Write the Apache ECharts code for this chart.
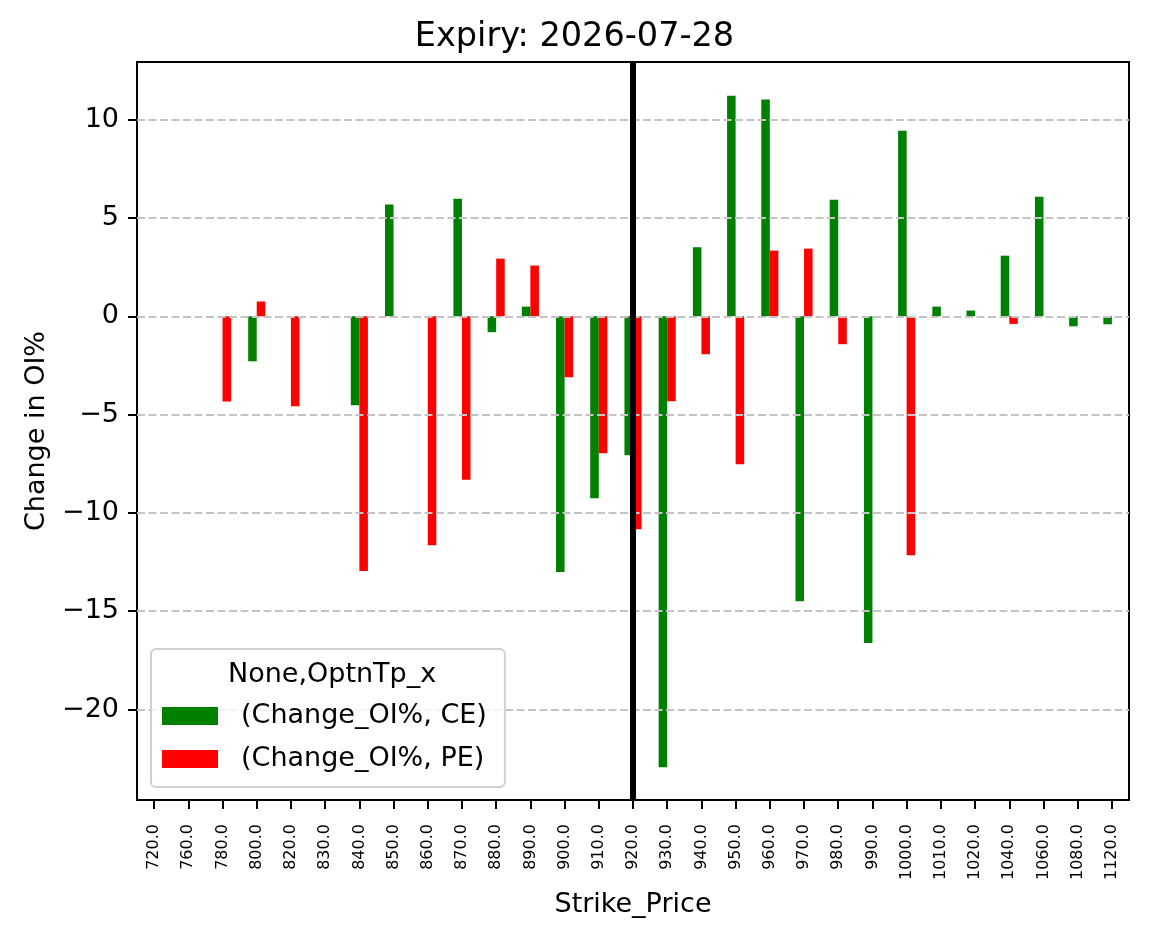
<!DOCTYPE html>
<html>
<head>
<meta charset="utf-8">
<script src="https://cdn.jsdelivr.net/npm/echarts@6/dist/echarts.min.js"></script>
<style>
  html, body { margin: 0; padding: 0; background: #fff; }
  #chart { width: 1149px; height: 939px; }
</style>
</head>
<body>
<div id="chart"></div>
<script>
// strike prices (x categories)
var strikes = ['720.0', '760.0', '780.0', '800.0', '820.0', '830.0', '840.0', '850.0', '860.0', '870.0',
    '880.0', '890.0', '900.0', '910.0', '920.0', '930.0', '940.0', '950.0', '960.0', '970.0',
    '980.0', '990.0', '1000.0', '1010.0', '1020.0', '1040.0', '1060.0', '1080.0', '1120.0'];

// change in OI% for calls / puts
var ceChange = [null, null, null, -2.29, null, null, -4.53, 5.68, null, 5.98,
    -0.81, 0.49, -13.0, -9.25, -7.07, -22.93, 3.51, 11.22, 11.02, -14.49,
    5.93, -16.62, 9.44, 0.49, 0.29, 3.08, 6.08, -0.51, -0.41];
var peChange = [null, null, -4.34, 0.75, -4.58, null, -12.96, null, -11.64, -8.31,
    2.93, 2.58, -3.10, -6.97, -10.83, -4.32, -1.93, -7.53, 3.34, 3.44,
    -1.42, null, -12.15, null, null, -0.39, null, null, null];

var yTicks = [-20, -15, -10, -5, 0, 5, 10];
var spotStrike = '920.0';

var font = 'DejaVu Sans';

// dashed horizontal grid lines, drawn over the bars like matplotlib does
var gridLines = yTicks.map(function (v) {
    return {
        yAxis: v,
        lineStyle: {color: '#c4c4c4', width: 2, type: [8, 3.5]}
    };
});

var option = {
    animation: false,
    backgroundColor: '#fff',
    textStyle: {fontFamily: font, color: '#000'},
    title: {
        text: 'Expiry: 2026-07-28',
        left: 'center',
        top: 15,
        textStyle: {fontFamily: font, fontSize: 33.5, fontWeight: 'normal', color: '#000'}
    },
    legend: {
        orient: 'vertical',
        left: 151,
        top: 649,
        z: 20,
        padding: [52, 18, 13, 11],
        itemWidth: 56,
        itemHeight: 18,
        itemGap: 13,
        backgroundColor: 'rgba(255,255,255,0.8)',
        borderColor: '#d0d0d0',
        borderWidth: 2,
        borderRadius: 5,
        icon: 'rect',
        textStyle: {fontFamily: font, fontSize: 27, color: '#000', lineHeight: 30, padding: [0, 0, 0, 18]},
        data: ['(Change_OI%, CE)', '(Change_OI%, PE)']
    },
    graphic: [{
        type: 'text',
        left: 328 - 100,
        top: 661,
        style: {
            text: 'None,OptnTp_x',
            fontFamily: font,
            fontSize: 27,
            fill: '#000',
            width: 200,
            align: 'center'
        },
        z: 100
    }],
    grid: {
        left: 137,
        right: 20,
        top: 62,
        bottom: 139,
        show: true,
        borderColor: '#000',
        borderWidth: 2,
        backgroundColor: 'transparent'
    },
    xAxis: {
        type: 'category',
        data: strikes,
        name: 'Strike_Price',
        nameLocation: 'middle',
        nameGap: 91,
        nameTextStyle: {fontFamily: font, fontSize: 27, color: '#000'},
        axisLine: {show: true, onZero: false, lineStyle: {color: '#000', width: 2}},
        axisTick: {show: true, alignWithLabel: true, interval: 0, length: 9, lineStyle: {color: '#000', width: 2}},
        axisLabel: {interval: 0, rotate: 90, margin: 24, fontFamily: font, fontSize: 16, color: '#000'},
        splitLine: {show: false}
    },
    yAxis: {
        type: 'value',
        min: -24.6,
        max: 12.93,
        name: 'Change in OI%',
        nameLocation: 'middle',
        nameGap: 87,
        nameTextStyle: {fontFamily: font, fontSize: 27, color: '#000'},
        axisLine: {show: true, lineStyle: {color: '#000', width: 2}},
        axisTick: {show: true, length: 9, customValues: yTicks, lineStyle: {color: '#000', width: 2}},
        axisLabel: {
            margin: 18,
            customValues: yTicks,
            fontFamily: font,
            fontSize: 27,
            color: '#000',
            formatter: function (v) {
                return String(v).replace('-', '\u2212');
            }
        },
        splitLine: {show: false}
    },
    series: [{
        name: '(Change_OI%, CE)',
        type: 'bar',
        data: ceChange,
        barWidth: '25%',
        barGap: '0%',
        itemStyle: {color: '#008000'},
        markLine: {
            silent: true,
            symbol: ['none', 'none'],
            label: {show: false},
            z: 10,
            data: gridLines
        }
    }, {
        name: '(Change_OI%, PE)',
        type: 'bar',
        data: peChange,
        barWidth: '25%',
        barGap: '0%',
        itemStyle: {color: '#ff0000'}
    }, {
        // spot marker line, on its own series so it is not shifted with the bars
        name: 'spot',
        type: 'line',
        data: [],
        markLine: {
            silent: true,
            symbol: ['none', 'none'],
            label: {show: false},
            z: 11,
            lineStyle: {color: '#000', width: 6, type: 'solid'},
            data: [{xAxis: spotStrike}]
        }
    }]
};

var myChart = echarts.init(document.getElementById('chart'));
myChart.setOption(option);
</script>
</body>
</html>
